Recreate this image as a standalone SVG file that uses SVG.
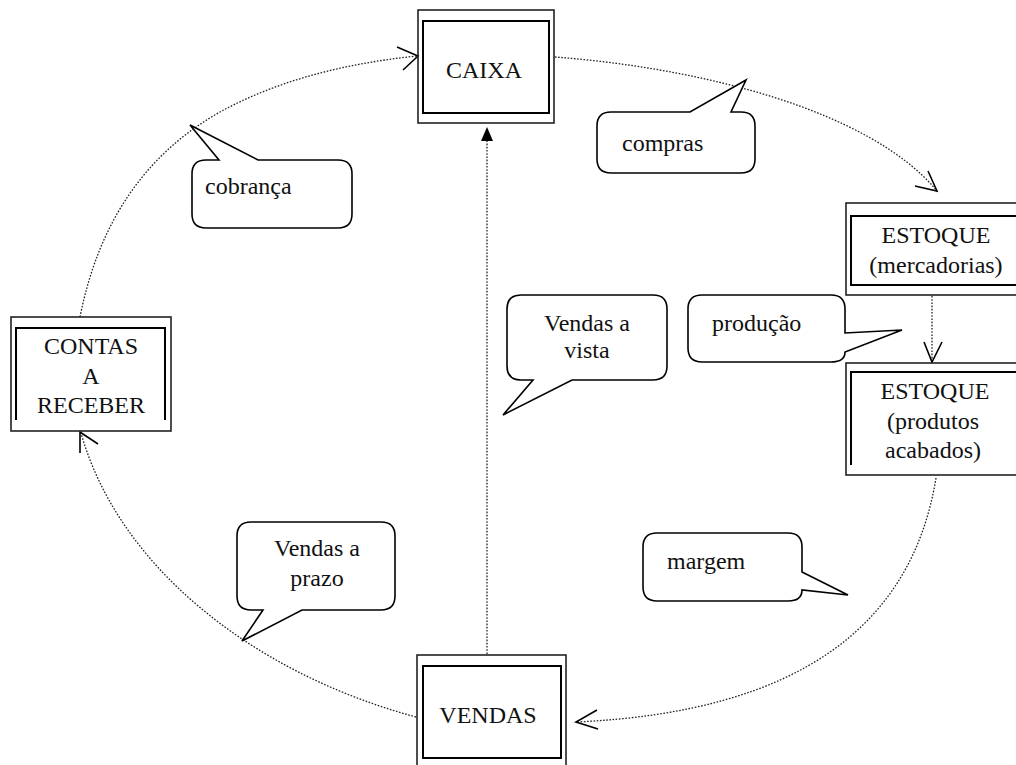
<svg xmlns="http://www.w3.org/2000/svg" width="1016" height="765" viewBox="0 0 1016 765">
  <defs>
    <style>
      .bg { fill: #ffffff; }
      .outer { fill: none; stroke: #222; stroke-width: 1.6; }
      .inner { fill: none; stroke: #000; stroke-width: 2; }
      .flow { fill: none; stroke: #222; stroke-width: 1.3; stroke-dasharray: 1.6 1.6; }
      .head { fill: none; stroke: #000; stroke-width: 1.6; stroke-linejoin: miter; }
      .bubble { fill: #ffffff; stroke: #000; stroke-width: 1.6; stroke-linejoin: miter; }
      text { font-family: "Liberation Serif", "Times New Roman", serif; font-size: 24px; fill: #111; }
      .c { text-anchor: middle; }
    </style>
  </defs>

  <rect class="bg" x="0" y="0" width="1016" height="765"/>

  <!-- flows between the accounts -->
  <g id="connectors">
    <!-- cobrança: contas a receber -> caixa -->
    <path class="flow" d="M80,317 Q108,175 220,112 Q300,68 417,56"/>
    <polyline class="head" points="397,47 418,56 403,70"/>
    <!-- compras: caixa -> estoque -->
    <path class="flow" d="M555,57 C700,68 870,110 937,191"/>
    <polyline class="head" points="928,171 937,191 915,186"/>
    <!-- produção: mercadorias -> produtos acabados -->
    <path class="flow" d="M932,296 L932,361"/>
    <polyline class="head" points="924,342 932,362 942,342"/>
    <!-- margem: produtos acabados -> vendas -->
    <path class="flow" d="M936,478 C912,625 800,712 576,722"/>
    <polyline class="head" points="597,710 576,722 598,729"/>
    <!-- vendas a prazo: vendas -> contas a receber -->
    <path class="flow" d="M416,717 C250,672 118,565 81,433"/>
    <polyline class="head" points="80,453 80,432 98,444"/>
    <!-- vendas a vista: vendas -> caixa -->
    <path class="flow" d="M487,654 L487,140"/>
    <polygon points="487,127 481,141 493,141" fill="#000"/>
  </g>

  <g id="caixa">
    <rect class="outer" x="418" y="10" width="136" height="113"/>
    <rect class="inner" x="423" y="21" width="126" height="92"/>
    <text class="c" x="484" y="78">CAIXA</text>
  </g>

  <g id="estoque-mercadorias">
    <rect class="outer" x="846" y="203" width="180" height="92"/>
    <rect class="inner" x="851" y="216" width="175" height="69"/>
    <text class="c" x="936" y="243">ESTOQUE</text>
    <text class="c" x="936" y="273">(mercadorias)</text>
  </g>

  <g id="estoque-produtos">
    <rect class="outer" x="846" y="363" width="180" height="112"/>
    <polyline class="inner" points="851,465 851,372 1026,372"/>
    <text class="c" x="935" y="399">ESTOQUE</text>
    <text class="c" x="933" y="429">(produtos</text>
    <text class="c" x="933" y="458">acabados)</text>
  </g>

  <g id="contas-a-receber">
    <rect class="outer" x="11" y="317" width="160" height="114"/>
    <polyline class="inner" points="16,420 16,328 165,328 165,420"/>
    <text class="c" x="91" y="354">CONTAS</text>
    <text class="c" x="91" y="384">A</text>
    <text class="c" x="91" y="413">RECEBER</text>
  </g>

  <g id="vendas">
    <rect class="outer" x="417" y="655" width="149" height="120"/>
    <rect class="inner" x="423" y="666" width="138" height="92"/>
    <text class="c" x="488" y="723">VENDAS</text>
  </g>

  <!-- callout labels -->
  <g id="callout-cobranca">
    <path class="bubble" d="M206,160 L219,160 L190,125 L258,160 L338,160 Q352,160 352,174 L352,214 Q352,228 338,228 L206,228 Q192,228 192,214 L192,174 Q192,160 206,160 Z"/>
    <text x="205" y="194">cobrança</text>
  </g>

  <g id="callout-compras">
    <path class="bubble" d="M611,112 L690,112 L746,80 L731,112 L741,112 Q755,112 755,126 L755,159 Q755,173 741,173 L611,173 Q597,173 597,159 L597,126 Q597,112 611,112 Z"/>
    <text x="622" y="151">compras</text>
  </g>

  <g id="callout-producao">
    <path class="bubble" d="M702,295 L831,295 Q845,295 845,309 L845,333 L902,330 L845,352 Q845,362 831,362 L702,362 Q688,362 688,348 L688,309 Q688,295 702,295 Z"/>
    <text x="712" y="331">produção</text>
  </g>

  <g id="callout-vendas-vista">
    <path class="bubble" d="M521,295 L653,295 Q667,295 667,309 L667,366 Q667,380 653,380 L572,380 L503,415 L533,380 L521,380 Q507,380 507,366 L507,309 Q507,295 521,295 Z"/>
    <text class="c" x="587" y="331">Vendas a</text>
    <text class="c" x="587" y="358">vista</text>
  </g>

  <g id="callout-vendas-prazo">
    <path class="bubble" d="M251,522 L381,522 Q395,522 395,536 L395,596 Q395,610 381,610 L302,610 L242,641 L263,610 L251,610 Q237,610 237,596 L237,536 Q237,522 251,522 Z"/>
    <text class="c" x="317" y="556">Vendas a</text>
    <text class="c" x="317" y="586">prazo</text>
  </g>

  <g id="callout-margem">
    <path class="bubble" d="M657,533 L788,533 Q802,533 802,547 L802,572 L848,595 L802,590 Q802,601 788,601 L657,601 Q643,601 643,587 L643,547 Q643,533 657,533 Z"/>
    <text x="667" y="569">margem</text>
  </g>
</svg>
